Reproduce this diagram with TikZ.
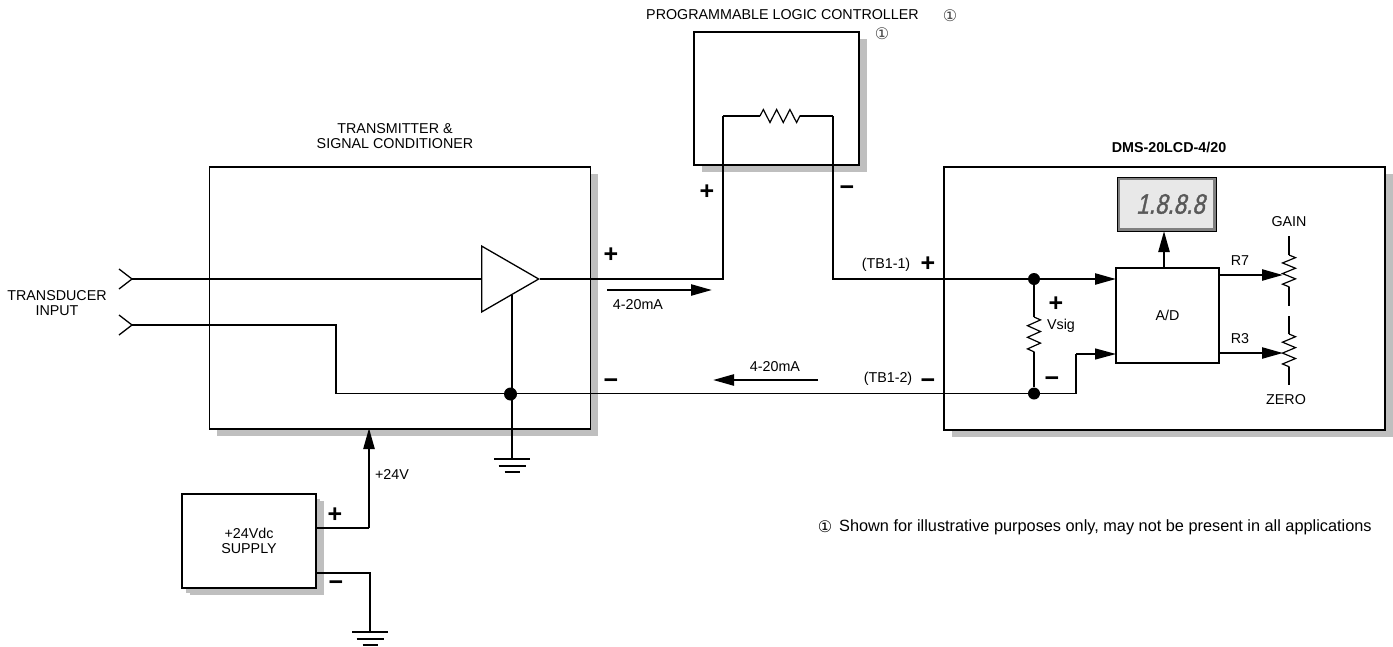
\documentclass[tikz,border=0pt]{standalone}
\usepackage{fontspec}
\setmainfont{Liberation Sans}
\newfontfamily\symfont{DejaVu Sans}
\newfontfamily\lcdfont[FakeStretch=0.8,FakeSlant=0.22,FakeBold=1.2]{Liberation Sans}
\usetikzlibrary{arrows.meta,decorations.pathmorphing,shadows,shapes.geometric}
\definecolor{shadowgray}{gray}{0.75}
\newcommand*{\one}{{\symfont ①}}
\tikzset{
  box/.style={draw=black,fill=white,line width=1.4pt,inner sep=0pt,
    general shadow={fill=shadowgray,shadow xshift=7.5pt,shadow yshift=-7pt}},
  plainbox/.style={draw=black,fill=white,line width=1.4pt,inner sep=0pt},
  wire/.style={line width=2.4pt},
  thinwire/.style={line width=1.3pt},
  sig/.style={-{Triangle[length=21pt,width=11pt]}},
  zig/.style={line width=1.2pt,decorate,
    decoration={zigzag,segment length=#1,amplitude=6.5pt}},
  lbl/.style={inner sep=0pt,align=center,font=\fontsize{14.3}{14.3}\selectfont},
  mark1/.style={inner sep=0pt,text=black!75,font=\fontsize{16}{16}\selectfont},
  pol/.style={inner sep=0pt,yshift=-2pt,font=\fontsize{25}{25}\selectfont\bfseries},
  neg/.style={inner sep=0pt,yshift=-6pt,font=\fontsize{25}{25}\selectfont\bfseries},
  dot/.style={circle,fill=black,inner sep=0pt,minimum size=12pt}
}
\begin{document}
\begin{tikzpicture}[x=1pt,y=-1pt]
\useasboundingbox (0,0) rectangle (1393,646);
% boxes
\node[box,minimum width=381pt,minimum height=262pt] (xmtr) at (400,298) {};
\node[box,minimum width=165pt,minimum height=133pt] (plc)  at (776.5,98.5) {};
\node[box,minimum width=441pt,minimum height=263pt] (dms)  at (1164.5,298.5) {};
\node[box,minimum width=134pt,minimum height=94pt,lbl,
      general shadow={fill=shadowgray,shadow xshift=4pt,shadow yshift=-5pt}] (supply) at (249,541) {+24Vdc\\SUPPLY};
\node[plainbox,minimum width=103pt,minimum height=95pt,lbl] (ad) at (1167.5,315.5) {A/D};
\node[draw=black,line width=.8pt,fill=black!50,minimum width=99pt,minimum height=54pt,inner sep=0pt] (lcd) at (1166.5,204) {};
\node[fill=black!9,minimum width=93pt,minimum height=48pt,inner sep=0pt,text=black!65,
      font=\fontsize{28}{28}\lcdfont] (digits) at (1166.5,204) {\hspace{8pt}1.8.8.8};
\node[isosceles triangle,isosceles triangle apex angle=60,draw=black,line width=1.3pt,fill=white,
      minimum height=57pt,inner sep=0pt,anchor=apex] (amp) at (540,279) {};
% wire corners
\coordinate (inA)  at (132,279);
\coordinate (inB)  at (132,325);
\coordinate (inBc) at (336,325);
\coordinate (inBd) at (336,393.5);
\coordinate (plusL) at (723,279);
\coordinate (plusT) at (723,116);
\coordinate (resL)  at (760,116);
\coordinate (resR)  at (800,116);
\coordinate (minT)  at (833,116);
\coordinate (minB)  at (833,279);
\node[dot] (top) at (1034,279) {};
\node[dot] (bot) at (1034,393.5) {};
\node[dot,minimum size=13pt] (com) at (510.5,394) {};
\coordinate (ampG) at (512,295);
\coordinate (gndA) at (512,459);
\coordinate (vsA) at (1034,317);
\coordinate (vsB) at (1034,352);
\coordinate (adIn) at (1076,393.5);
\coordinate (adInT) at (1076,354);
\coordinate (adInE) at (1116,354);
\coordinate (adTop) at (1116,279);
\coordinate (lcdIn) at (1164,231);
\coordinate (adOut) at (1164,268);
% pots
\coordinate (outA) at (1219,275);
\coordinate (tipA) at (1283,275);
\coordinate (outB) at (1219,353);
\coordinate (tipB) at (1283,353);
\coordinate (gainA) at (1289,236);
\coordinate (gainB) at (1289,255);
\coordinate (gainC) at (1289,287);
\coordinate (gainD) at (1289,306);
\coordinate (zeroA) at (1289,316);
\coordinate (zeroB) at (1289,334);
\coordinate (zeroC) at (1289,367);
\coordinate (zeroD) at (1289,385);
% supply wires
\coordinate (supP) at (316,528);
\coordinate (supPc) at (369,528);
\coordinate (supPe) at (369,428);
\coordinate (supM) at (316,573);
\coordinate (supMc) at (370,573);
\coordinate (gndB) at (370,632);
% wires
\draw[wire] (inA) -- (amp.west |- inA);
\draw[wire] (inB) -- (inBc) -- (inBd);
\draw[thinwire] (inBd) -- (bot);
\draw[wire] (amp.apex) -- (plusL) -- (plusT);
\draw[thinwire] (plusT) -- (resL);
\draw[zig=13.3pt] (resL) -- (resR);
\draw[thinwire] (resR) -- (minT);
\draw[wire] (minT) -- (minB) -- (top);
\draw[wire,sig] (top) -- (adTop);
\draw[wire] (ampG) -- (gndA);
\draw[thinwire] (top) -- (vsA);
\draw[zig=11.6pt] (vsA) -- (vsB);
\draw[thinwire] (vsB) -- (bot);
\draw[thinwire] (bot) -- (adIn) -- (adInT);
\draw[thinwire,sig] (adInT) -- (adInE);
\draw[wire,sig] (adOut) -- (lcdIn);
\draw[wire,sig] (outA) -- (tipA);
\draw[wire,sig] (outB) -- (tipB);
\draw[thinwire] (gainA) -- (gainB);
\draw[zig=10.6pt] (gainB) -- (gainC);
\draw[thinwire] (gainC) -- (gainD);
\draw[thinwire] (zeroA) -- (zeroB);
\draw[zig=10.9pt] (zeroB) -- (zeroC);
\draw[thinwire] (zeroC) -- (zeroD);
\draw[wire] (supP) -- (supPc);
\draw[wire,sig] (supPc) -- (supPe);
\draw[wire] (supM) -- (supMc) -- (gndB);
% inputs
\draw[thinwire] (119,269) -- (inA) -- (119,289);
\draw[thinwire] (119,315) -- (inB) -- (119,335);
% grounds
\foreach \g in {gndA,gndB}{
  \draw[wire] ([xshift=-18pt]\g) -- ([xshift=18pt]\g);
  \draw[wire] ([xshift=-13.5pt,yshift=-7pt]\g) -- ([xshift=13.5pt,yshift=-7pt]\g);
  \draw[wire] ([xshift=-7.5pt,yshift=-13pt]\g) -- ([xshift=7.5pt,yshift=-13pt]\g);
}
% current arrows
\coordinate (iA) at (607,290);
\coordinate (iB) at (712,290);
\coordinate (iC) at (818,380);
\coordinate (iD) at (713,380);
\draw[wire,sig] (iA) -- (iB);
\draw[wire,sig] (iC) -- (iD);
% labels
\node[lbl] (tplc) at (782.5,15) {PROGRAMMABLE LOGIC CONTROLLER};
\node[mark1] (nA) at (950,16) {\one};
\node[mark1] (nB) at (882,34) {\one};
\node[lbl] (txmtr) at (395,136) {TRANSMITTER \&\\SIGNAL CONDITIONER};
\node[lbl,font=\fontsize{14.3}{14.3}\selectfont\bfseries] (tdms) at (1169,147) {DMS-20LCD-4/20};
\node[lbl] (tin) at (57,303) {TRANSDUCER\\INPUT};
\node[lbl] (mA1) at (638,305) {4-20mA};
\node[lbl] (mA2) at (775,367) {4-20mA};
\node[lbl] (tb1) at (886,265) {(TB1-1)};
\node[lbl] (tb2) at (888,379) {(TB1-2)};
\node[lbl] (vsig) at (1061,326) {Vsig};
\node[lbl] (r7) at (1240,261) {R7};
\node[lbl] (r3) at (1240,339) {R3};
\node[lbl] (gain) at (1289,222) {GAIN};
\node[lbl] (zero) at (1286,400) {ZERO};
\node[lbl] (v24) at (392,475) {+24V};
\node[mark1,text=black] (nC) at (825,527) {\one};
\node[lbl,anchor=west,font=\fontsize{16.3}{16.3}\selectfont] (note) at (839,527) {Shown for illustrative purposes only, may not be present in all applications};
% polarity
\node[pol] (p1) at (611,253) {+};
\node[neg] (m1) at (611,378) {−};
\node[pol] (p2) at (707,190) {+};
\node[neg] (m2) at (847,185) {−};
\node[pol] (p3) at (928,262) {+};
\node[neg] (m3) at (928,378) {−};
\node[pol] (p4) at (1056,302) {+};
\node[neg] (m4) at (1052,376) {−};
\node[pol] (p5) at (335,513) {+};
\node[neg] (m5) at (336,580) {−};
\end{tikzpicture}
\end{document}
